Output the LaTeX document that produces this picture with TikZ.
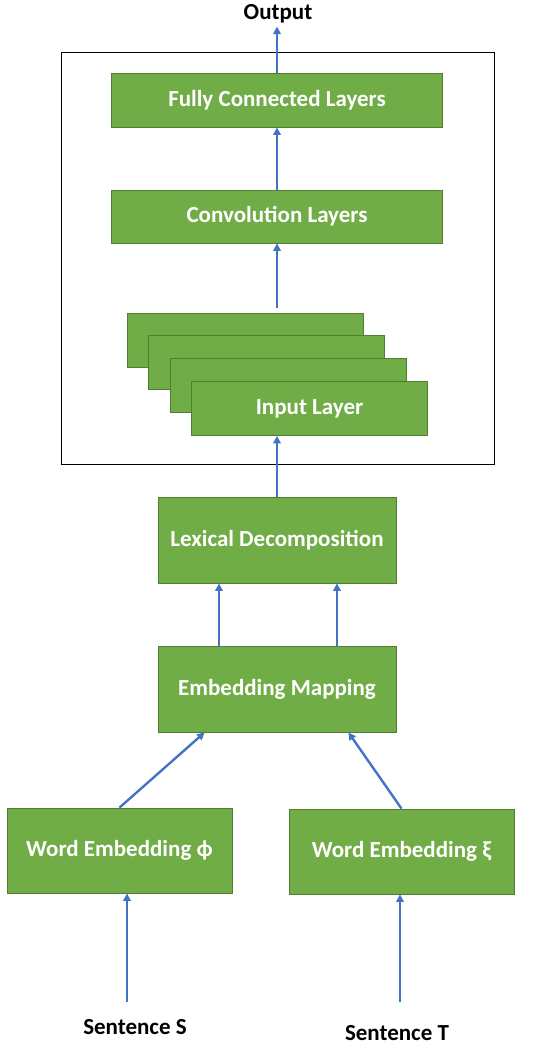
\documentclass[tikz,border=0pt]{standalone}
\usepackage{fontspec}
\setmainfont{Carlito}
\definecolor{boxgreen}{RGB}{112,173,71}
\definecolor{boxedge}{RGB}{80,126,50}
\definecolor{arrowblue}{RGB}{68,114,196}
\usetikzlibrary{arrows.meta, calc}

\begin{document}
\begin{tikzpicture}[
    x=1pt, y=-1pt,
    layer/.style={draw=boxedge, fill=boxgreen, line width=0.8pt, text=white, align=center, inner sep=0pt, font=\fontsize{23}{26}\selectfont\bfseries},
    io/.style={inner sep=3pt, font=\fontsize{23}{26}\selectfont\bfseries},
    flow/.style={-{Triangle[length=7.5pt, width=7.5pt]}, arrowblue, line width=2.4pt}
]
  \useasboundingbox (0,0) rectangle (550,1052);

  % CNN part
  \draw[line width=1pt] (61,52) rectangle (494,464);
  \node[io] (out) at (278,14) {Output};
  \node[layer, minimum width=331pt, minimum height=54pt] (fc) at (277,100) {Fully Connected Layers};
  \node[layer, minimum width=331pt, minimum height=53pt] (conv) at (277,216.5) {Convolution Layers};
  \node[layer, minimum width=236pt, minimum height=54pt] (in1) at (245,340) {};
  \node[layer, minimum width=236pt, minimum height=54pt] (in2) at (266.5,362.5) {};
  \node[layer, minimum width=236pt, minimum height=54pt] (in3) at (288,385.5) {};
  \node[layer, minimum width=236pt, minimum height=54pt] (in4) at (309.5,408.5) {Input Layer};
  \coordinate (stacktop) at (277,308);

  % lower part
  \node[layer, minimum width=238pt, minimum height=86pt] (lex) at (277,540) {Lexical Decomposition};
  \node[layer, minimum width=238pt, minimum height=86pt] (emb) at (277,689) {Embedding Mapping};
  \node[layer, minimum width=225pt, minimum height=85pt] (we1) at (119.5,850.5) {Word Embedding ϕ};
  \node[layer, minimum width=225pt, minimum height=85pt] (we2) at (401.5,851.5) {Word Embedding ξ};
  \node[io] (sS) at (135,1027) {Sentence S};
  \node[io] (sT) at (397,1033) {Sentence T};
  \coordinate (srcS) at (127,1002);
  \coordinate (srcT) at (400,1002);

  \draw[flow] (fc.north) -- (fc.north |- out.south);
  \draw[flow] (conv.north) -- (fc.south);
  \draw[flow] (stacktop) -- (conv.south);
  \draw[flow] (lex.north) -- (lex.north |- in4.south);
  \draw[flow] ($(emb.north)+(-58,0)$) -- ($(lex.south)+(-58,0)$);
  \draw[flow] ($(emb.north)+(60,0)$) -- ($(lex.south)+(60,0)$);
  \draw[flow] (we1.north) -- ($(emb.south west)+(47,0)$);
  \draw[flow] (we2.north) -- ($(emb.south east)+(-48,0)$);
  \draw[flow] (srcS) -- (srcS |- we1.south);
  \draw[flow] (srcT) -- (srcT |- we2.south);
\end{tikzpicture}
\end{document}
